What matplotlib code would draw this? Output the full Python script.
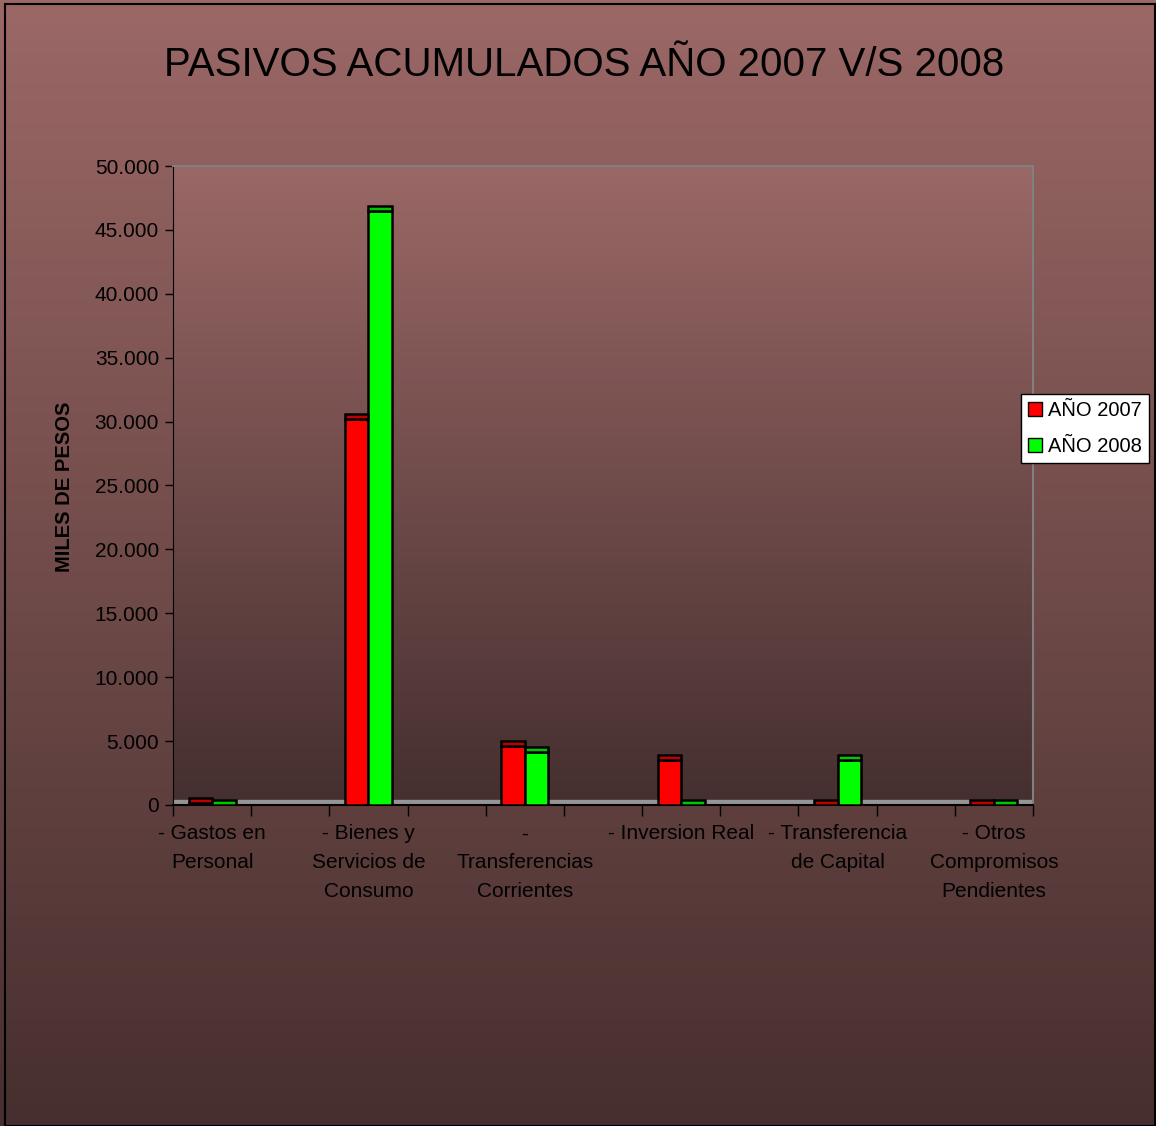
import matplotlib
matplotlib.use("Agg")
import matplotlib.pyplot as plt
import numpy as np
from matplotlib.patches import Rectangle
from matplotlib.lines import Line2D
from matplotlib.ticker import FuncFormatter
from matplotlib.transforms import Bbox, TransformedBbox

plt.rcParams['font.family'] = ['Liberation Sans', 'DejaVu Sans']

# datos (miles de pesos)
categorias = ["- Gastos en\nPersonal", "- Bienes y\nServicios de\nConsumo",
              "-\nTransferencias\nCorrientes", "- Inversion Real",
              "- Transferencia\nde Capital", "- Otros\nCompromisos\nPendientes"]
anio_2007 = [150, 30200, 4620, 3530, 0, 0]
anio_2008 = [0, 46500, 4130, 0, 3530, 0]
series = ["AÑO 2007", "AÑO 2008"]
yticks = [0, 5000, 10000, 15000, 20000, 25000, 30000, 35000, 40000, 45000, 50000]

W, H = 1156, 1126
fig = plt.figure(figsize=(W / 100, H / 100), dpi=100)

# fondo degradado del grafico
bg = fig.add_axes([0, 0, 1, 1], zorder=-2)
top = np.array([155, 104, 102]) / 255
bot = np.array([70, 47, 46]) / 255
t = np.linspace(0, 1, 256)[:, None]
grad = top[None, :] * (1 - t) + bot[None, :] * t
bg.imshow(grad[:, None, :], aspect='auto', extent=[0, 1, 0, 1])
bg.set_xlim(0, 1); bg.set_ylim(0, 1)
bg.axis('off')

ax = fig.add_axes([173 / W, 1 - 805 / H, (1033 - 173) / W, (805 - 166) / H])
ax.set_facecolor('none')
top2 = np.array([154, 104, 102]) / 255
bot2 = np.array([69, 47, 47]) / 255
grad2 = top2[None, :] * (1 - t) + bot2[None, :] * t
ax.imshow(grad2[:, None, :], aspect='auto', extent=[0, 1, 0, 1],
          transform=ax.transAxes, zorder=0)

x = np.arange(len(categorias)) * 2
w = 0.3
cap = 400
# piso gris
ax.axhspan(0, cap, color='#959595', zorder=1)

ax.bar(x - w / 2, anio_2007, w, color='#FF0000', edgecolor='black', lw=1.8, zorder=3)
ax.bar(x + w / 2, anio_2008, w, color='#00FF00', edgecolor='black', lw=1.8, zorder=3)
ax.bar(x - w / 2, cap, w, bottom=anio_2007, color='#C00000', edgecolor='black', lw=1.8, zorder=3)
ax.bar(x + w / 2, cap, w, bottom=anio_2008, color='#00C800', edgecolor='black', lw=1.8, zorder=3)

ax.set_xlim(-0.5, 10.5)
ax.set_ylim(0, 50000)
ax.set_yticks(yticks)
ax.yaxis.set_major_formatter(FuncFormatter(lambda v, p: f"{int(v):,}".replace(",", ".")))
ax.set_xticks(np.arange(-0.5, 11, 1))
ax.set_xticklabels([])
ax.set_xticks(x, minor=True)
ax.set_xticklabels(categorias, minor=True, fontsize=15, linespacing=1.65)
ax.tick_params(axis='x', which='major', length=8, width=1, color='black')
ax.tick_params(axis='x', which='minor', length=0, pad=14)
ax.tick_params(axis='y', length=6, width=1, color='black', labelsize=15, pad=4)
for lab in ax.get_xticklabels(minor=True):
    lab.set_verticalalignment('top')

ax.spines['left'].set_color('black')
ax.spines['bottom'].set_color('black')
ax.spines['bottom'].set_linewidth(1.5)
ax.spines['top'].set_color('#808080')
ax.spines['right'].set_color('#808080')
ax.spines['top'].set_linewidth(1.5)
ax.spines['right'].set_linewidth(1.5)

fig.text(584 / W, 1 - 65 / H, "PASIVOS ACUMULADOS AÑO 2007 V/S 2008",
         ha='center', va='center', fontsize=29)

# etiqueta eje y, recortada arriba como en el original
yl = fig.text(65 / W, 1 - 487 / H, "MILES DE PESOS", rotation=90,
              ha='center', va='center', fontsize=14.5, fontweight='bold')
yl.set_clip_box(TransformedBbox(Bbox([[0, 0], [1, 1 - 402 / H]]), fig.transFigure))
yl.set_clip_on(True)

handles = [Line2D([], [], ls='none', marker='s', markersize=10, markerfacecolor=c,
                  markeredgecolor='black') for c in ['#FF0000', '#00FF00']]
leg = fig.legend(handles, series, loc='upper left',
                 bbox_to_anchor=(1021 / W, 1 - 394 / H), fontsize=14.5,
                 frameon=True, fancybox=False, edgecolor='black', framealpha=1,
                 handlelength=0.7, handletextpad=0.3, borderpad=0.35,
                 labelspacing=0.85, borderaxespad=0)
leg.get_frame().set_linewidth(1)

fig.patches.append(Rectangle((5 / W, 0), 1 - 6 / W, 1 - 4 / H, transform=fig.transFigure,
                             fill=False, edgecolor='black', lw=1.5))

fig.savefig("out.png", dpi=100)
